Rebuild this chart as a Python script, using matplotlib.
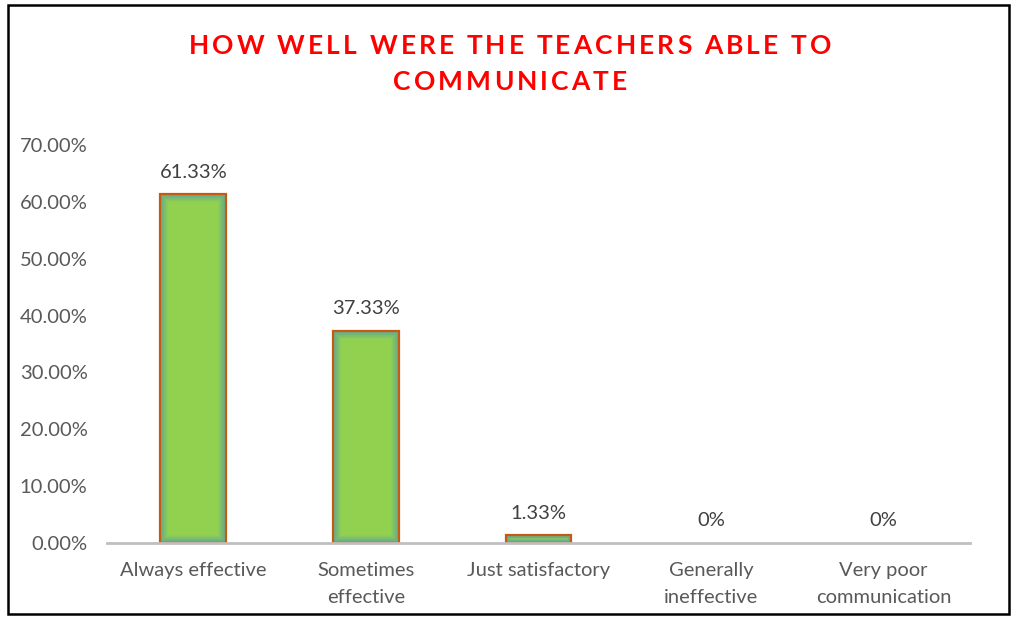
import numpy as np
import matplotlib.pyplot as plt
from matplotlib.patches import Rectangle

# Survey results
categories = ['Always effective', 'Sometimes\neffective', 'Just satisfactory',
              'Generally\nineffective', 'Very poor\ncommunication']
values = [61.33, 37.33, 1.33, 0, 0]
labels = ['61.33%', '37.33%', '1.33%', '0%', '0%']
title_lines = ['HOW WELL WERE THE TEACHERS ABLE TO', 'COMMUNICATE']

plt.rcParams['font.family'] = ['Lato', 'DejaVu Sans']

W, H = 1013, 619
fig = plt.figure(figsize=(W / 100, H / 100), dpi=100)
ax = fig.add_axes([0.1056, 0.1228, 0.852, 0.643])

x = np.arange(len(categories))
bw = 0.38
ax.set_xlim(-0.5, len(categories) - 0.5)
ax.set_ylim(0, 70)

# pixel sizes in data units (for the soft inner glow of the bars)
px_x = 5 / (W * 0.852)
px_y = 70 / (H * 0.643)

edge_cols = ['#C55A11' if v > 0 else 'none' for v in values]
ax.bar(x, values, width=bw, color='#92D050', edgecolor='none', zorder=2)
for k in range(8):
    a = 0.45 * (1 - k / 8)
    for xi, v in zip(x, values):
        if v <= 0:
            continue
        w = bw - 2 * k * px_x
        h = v - 2 * k * px_y
        if w <= 0 or h <= 0:
            continue
        ax.add_patch(Rectangle((xi - w / 2, k * px_y), w, h, fill=False,
                               edgecolor='#3E8CC4', alpha=a, linewidth=1.1, zorder=3))
ax.bar(x, values, width=bw, color='none', edgecolor=edge_cols, linewidth=1.6, zorder=4)

for xi, v, lab in zip(x, values, labels):
    ax.text(xi, v + 2.4, lab, ha='center', va='bottom', fontsize=14.5, color='#404040')

ax.set_yticks(np.arange(0, 71, 10))
ax.set_yticklabels([f'{t:.2f}%' for t in np.arange(0, 71, 10)])
ax.set_xticks(x)
ax.set_xticklabels(categories, linespacing=1.65)
ax.tick_params(axis='both', length=0, labelsize=14.5, labelcolor='#595959')
ax.tick_params(axis='x', pad=14)
ax.tick_params(axis='y', pad=14)

for s in ['top', 'right', 'left']:
    ax.spines[s].set_visible(False)
ax.spines['bottom'].set_color('#BFBFBF')
ax.spines['bottom'].set_linewidth(2)
ax.spines['bottom'].set_zorder(5)

# title with letter spacing, drawn character by character
renderer = fig.canvas.get_renderer()
title_kw = dict(color='#FF0000', fontsize=19, fontweight='bold', va='center', ha='left')
line_y = [46, 82]
target = 642.0  # width of first line in pixels
probe = fig.text(0, 0, title_lines[0], **title_kw)
nat = probe.get_window_extent(renderer).width
probe.remove()
gap = (target - nat) / (len(title_lines[0]) - 1)
cx = 510
for line, yy in zip(title_lines, line_y):
    pre = []
    for i in range(len(line)):
        if i == 0:
            pre.append(0.0)
        else:
            t = fig.text(0, 0, line[:i], **title_kw)
            pre.append(t.get_window_extent(renderer).width)
            t.remove()
    t = fig.text(0, 0, line, **title_kw)
    full = t.get_window_extent(renderer).width
    t.remove()
    total = full + gap * (len(line) - 1)
    x0 = cx - total / 2
    for i, ch in enumerate(line):
        fig.text((x0 + pre[i] + gap * i) / W, 1 - yy / H, ch, **title_kw)

# outer border
fig.patches.append(Rectangle((0.008, 0.008), 0.988, 0.984, transform=fig.transFigure,
                             fill=False, edgecolor='black', linewidth=1.8))

plt.savefig('out.png', dpi=100)
